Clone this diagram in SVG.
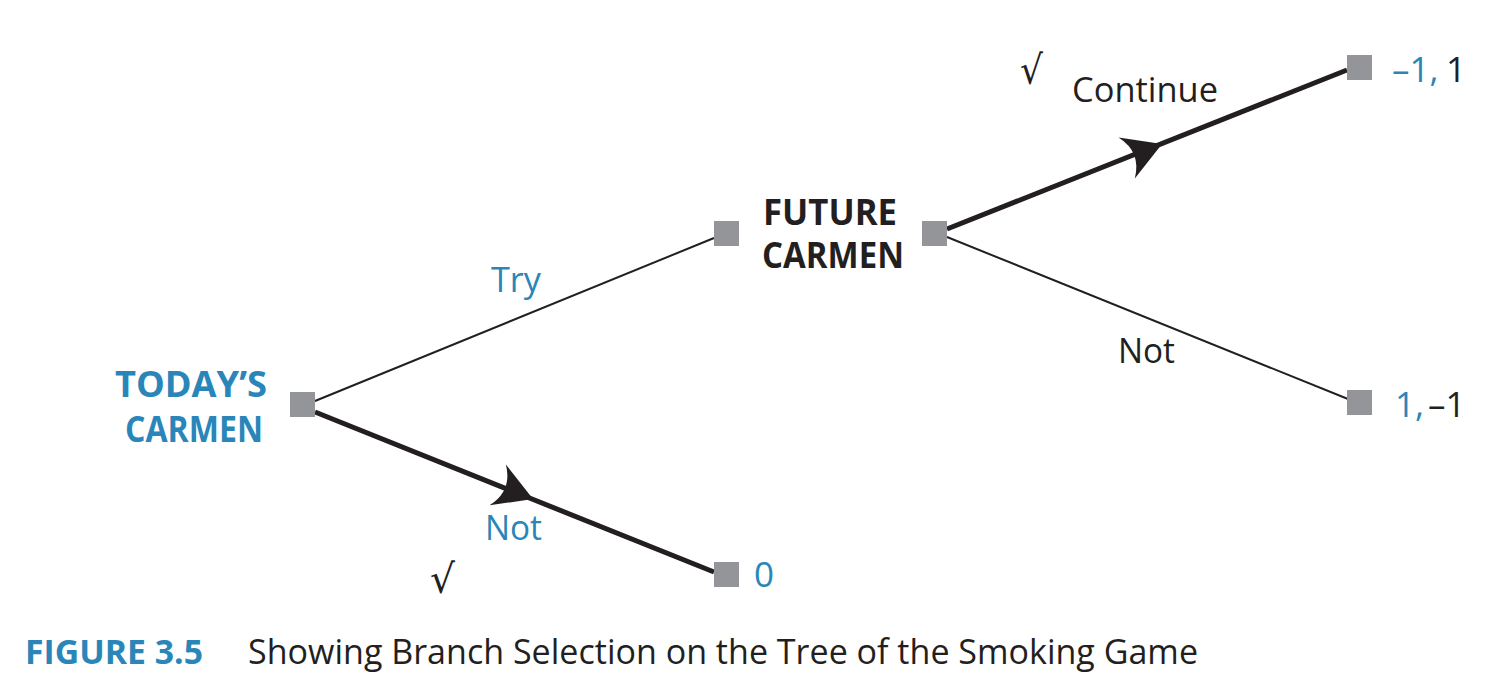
<svg xmlns="http://www.w3.org/2000/svg" width="1500" height="686" viewBox="0 0 1500 686">
<style>
.sq{fill:#939598}
.thin{stroke:#231f20;stroke-width:2;fill:none}
.thick{stroke:#231f20;stroke-width:5;fill:none}
.arr{fill:#231f20}
text{font-family:"Open Sans","Noto Sans","DejaVu Sans",sans-serif}
.b{fill:#2a86b8}
.k{fill:#231f20}
.bold{font-weight:700;font-size:35px}
.reg{font-size:35px}
.chk{font-family:"DejaVu Sans",sans-serif;font-size:40px;fill:#231f20}
</style>
<defs>
<path id="ah" d="M0,0 L-38,-22 Q-22,0 -38,22 Z"/>
</defs>
<rect width="1500" height="686" fill="#ffffff"/>
<g id="connectors">
<line class="thin" x1="315" y1="401" x2="714" y2="238"/>
<line class="thick" x1="315" y1="412" x2="714" y2="572"/>
<line class="thick" x1="947" y1="229" x2="1347" y2="70"/>
<line class="thin" x1="947" y1="237" x2="1348" y2="399"/>
<use href="#ah" class="arr" transform="translate(533,499) rotate(21.8)"/>
<use href="#ah" class="arr" transform="translate(1162,144) rotate(-21.7)"/>
<text class="reg b" x="491" y="292" textLength="50" lengthAdjust="spacingAndGlyphs">Try</text>
<text class="reg b" x="485" y="540" textLength="57" lengthAdjust="spacingAndGlyphs">Not</text>
<text class="reg k" x="1072" y="102" textLength="146" lengthAdjust="spacingAndGlyphs">Continue</text>
<text class="reg k" x="1118" y="363" textLength="57" lengthAdjust="spacingAndGlyphs">Not</text>
<text class="chk" x="1020" y="84" textLength="23" lengthAdjust="spacingAndGlyphs">√</text>
<text class="chk" x="430" y="593" textLength="25" lengthAdjust="spacingAndGlyphs">√</text>
</g>
<g id="todays-carmen">
<rect class="sq" x="290" y="392" width="25" height="25"/>
<text class="bold b" x="115" y="397" textLength="152" lengthAdjust="spacingAndGlyphs">TODAY’S</text>
<text class="bold b" x="125" y="442" textLength="138" lengthAdjust="spacingAndGlyphs">CARMEN</text>
</g>
<g id="future-carmen">
<rect class="sq" x="714" y="221" width="25" height="25"/>
<rect class="sq" x="922" y="221" width="25" height="25"/>
<text class="bold k" x="763" y="225" textLength="134" lengthAdjust="spacingAndGlyphs">FUTURE</text>
<text class="bold k" x="762" y="268" textLength="142" lengthAdjust="spacingAndGlyphs">CARMEN</text>
</g>
<g id="payoff-continue">
<rect class="sq" x="1347" y="55" width="25" height="25"/>
<text class="reg" x="1392" y="82"><tspan class="b">–1,</tspan><tspan class="k" x="1446">1</tspan></text>
</g>
<g id="payoff-not-future">
<rect class="sq" x="1347" y="390" width="25" height="25"/>
<text class="reg" x="1395" y="417"><tspan class="b">1,</tspan><tspan class="k" x="1428">–1</tspan></text>
</g>
<g id="payoff-not-today">
<rect class="sq" x="714" y="562" width="25" height="25"/>
<text class="reg b" x="754" y="587">0</text>
</g>
<g id="caption">
<text class="b" x="25" y="664" font-weight="700" font-size="34" textLength="178" lengthAdjust="spacingAndGlyphs">FIGURE 3.5</text>
<text class="k" x="248" y="664" font-size="35" textLength="950" lengthAdjust="spacingAndGlyphs">Showing Branch Selection on the Tree of the Smoking Game</text>
</g>
</svg>
